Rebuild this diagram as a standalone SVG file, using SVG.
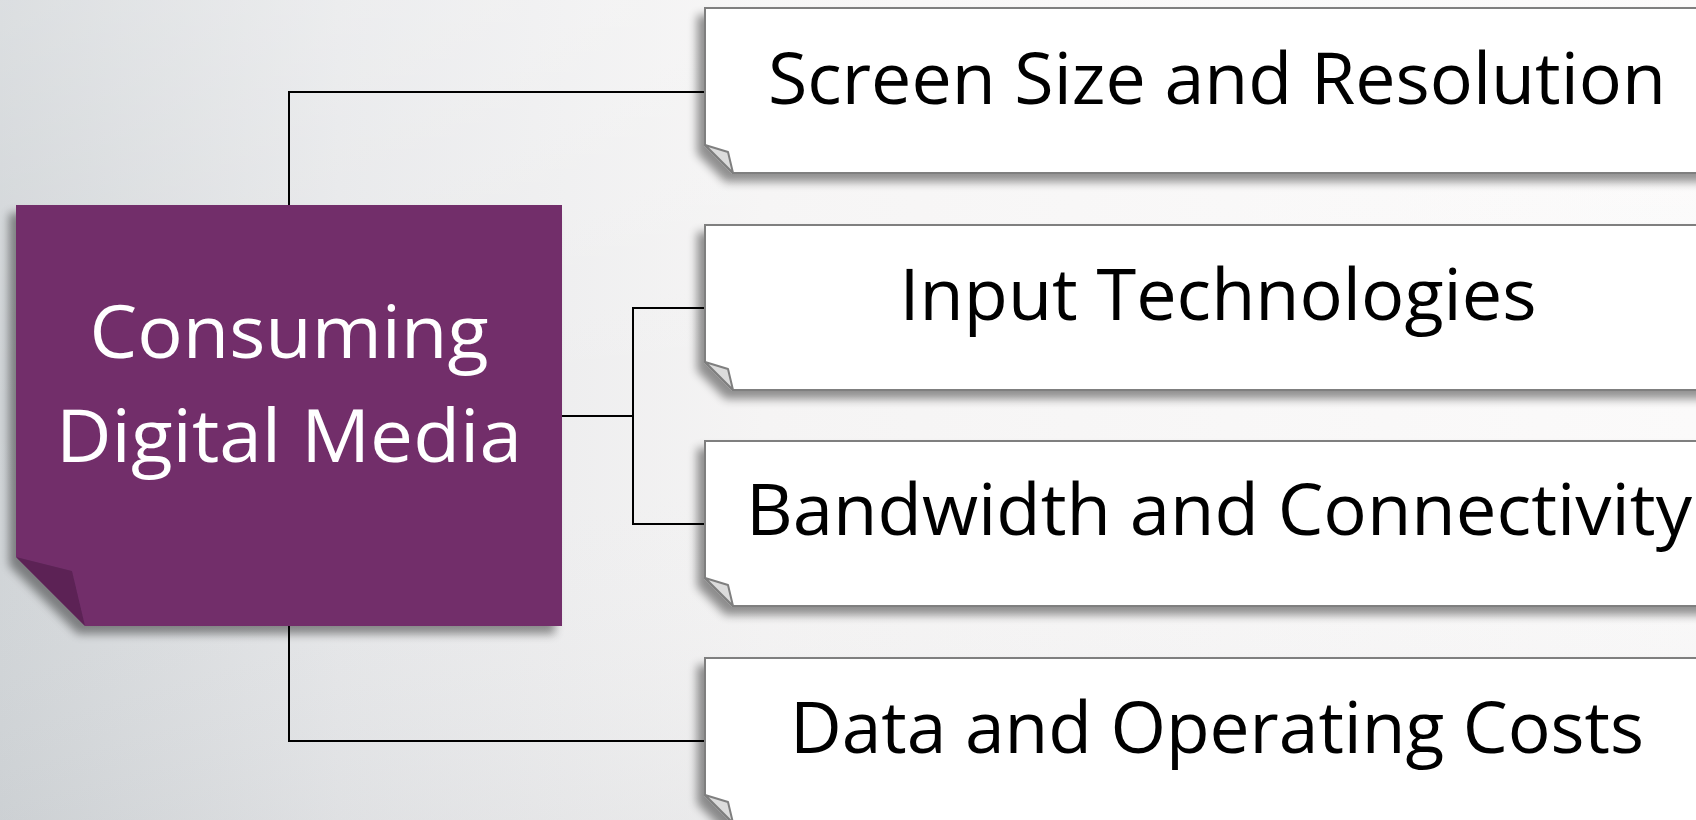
<svg xmlns="http://www.w3.org/2000/svg" width="1696" height="820" viewBox="0 0 1696 820">
  <defs>
    <linearGradient id="bg" x1="0" y1="0" x2="1696" y2="0" gradientUnits="userSpaceOnUse">
      <stop offset="0" stop-color="#d0d4d7"/>
      <stop offset="0.2" stop-color="#e6e7e9"/>
      <stop offset="0.45" stop-color="#f5f4f4"/>
      <stop offset="1" stop-color="#fbfafa"/>
    </linearGradient>
    <linearGradient id="bgShade" x1="0" y1="0" x2="0" y2="820" gradientUnits="userSpaceOnUse">
      <stop offset="0" stop-color="#ffffff" stop-opacity="0.25"/>
      <stop offset="0.5" stop-color="#ffffff" stop-opacity="0"/>
      <stop offset="1" stop-color="#b8bcc0" stop-opacity="0.15"/>
    </linearGradient>
    <filter id="noteShadow" x="-10%" y="-20%" width="120%" height="150%">
      <feGaussianBlur in="SourceAlpha" stdDeviation="5"/>
      <feOffset dx="-7" dy="8" result="blur"/>
      <feComponentTransfer><feFuncA type="linear" slope="0.42"/></feComponentTransfer>
      <feMerge><feMergeNode/><feMergeNode in="SourceGraphic"/></feMerge>
    </filter>
    <style>
      .note { fill: #ffffff; stroke: #7f7f7f; stroke-width: 2; }
      .fold { fill: #dcdcdc; stroke: #7f7f7f; stroke-width: 2; stroke-linejoin: round; }
      .label { font-family: "Open Sans", "Noto Sans", sans-serif; font-size: 71px; fill: #000000; text-anchor: middle; }
      .hubText { font-family: "Open Sans", "Noto Sans", sans-serif; font-size: 73px; fill: #ffffff; text-anchor: middle; }
      .conn { fill: none; stroke: #000000; stroke-width: 2; }
    </style>
  </defs>

  <rect x="0" y="0" width="1696" height="820" fill="url(#bg)"/>
  <rect x="0" y="0" width="1696" height="820" fill="url(#bgShade)"/>

  <!-- connectors -->
  <g id="connectors">
    <polyline class="conn" points="289,205 289,92 705,92"/>
    <polyline class="conn" points="289,626 289,741 705,741"/>
    <polyline class="conn" points="562,416 633,416"/>
    <polyline class="conn" points="705,308 633,308 633,524 705,524"/>
  </g>

  <!-- hub note -->
  <g id="hub" filter="url(#noteShadow)">
    <path d="M16,205 H562 V626 H85 L16,557 Z" fill="#722f6b"/>
    <path d="M16,557 L72,571 L85,626 Z" fill="#5b2455"/>
    <text class="hubText" x="289" y="358" textLength="399" lengthAdjust="spacingAndGlyphs">Consuming</text>
    <text class="hubText" x="289" y="462" textLength="466" lengthAdjust="spacingAndGlyphs">Digital Media</text>
  </g>

  <!-- topic notes -->
  <g id="screen-size" filter="url(#noteShadow)">
    <path class="note" d="M705,8 H1740 V173 H733 L705,145 Z"/>
    <path class="fold" d="M705,145 L728,152 L733,173 Z"/>
    <text class="label" x="1217" y="104" textLength="898" lengthAdjust="spacingAndGlyphs">Screen Size and Resolution</text>
  </g>

  <g id="input-tech" filter="url(#noteShadow)">
    <path class="note" d="M705,225 H1740 V390 H733 L705,362 Z"/>
    <path class="fold" d="M705,362 L728,369 L733,390 Z"/>
    <text class="label" x="1218" y="320" textLength="637" lengthAdjust="spacingAndGlyphs">Input Technologies</text>
  </g>

  <g id="bandwidth" filter="url(#noteShadow)">
    <path class="note" d="M705,441 H1740 V606 H733 L705,578 Z"/>
    <path class="fold" d="M705,578 L728,585 L733,606 Z"/>
    <text class="label" x="1219" y="535" textLength="946" lengthAdjust="spacingAndGlyphs">Bandwidth and Connectivity</text>
  </g>

  <g id="data-costs" filter="url(#noteShadow)">
    <path class="note" d="M705,658 H1740 V823 H733 L705,795 Z"/>
    <path class="fold" d="M705,795 L728,802 L733,823 Z"/>
    <text class="label" x="1217" y="753" textLength="854" lengthAdjust="spacingAndGlyphs">Data and Operating Costs</text>
  </g>
</svg>
